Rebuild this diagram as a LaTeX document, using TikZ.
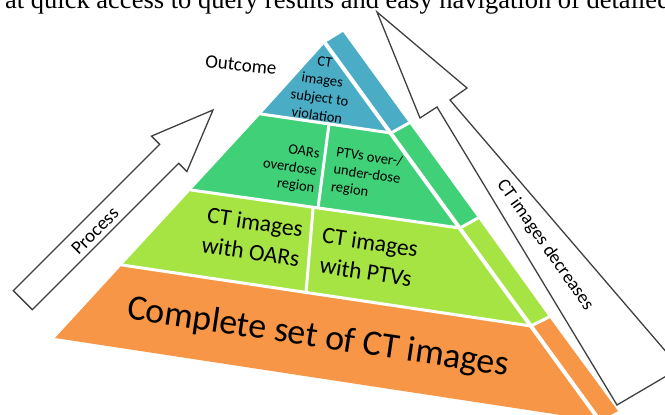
\documentclass[tikz,border=0pt]{standalone}
\usepackage{fontspec}
\setmainfont{Carlito}
\newfontfamily\captionserif{Liberation Serif}
\definecolor{tblue}{RGB}{75,172,198}
\definecolor{tgreen}{RGB}{64,208,120}
\definecolor{tlime}{RGB}{166,228,68}
\definecolor{torange}{RGB}{247,150,70}
\definecolor{arrowgray}{RGB}{64,64,64}
\begin{document}
\begin{tikzpicture}[x=1pt,y=-1pt,
  gapline/.style={white, line width=3pt, line cap=round},
  arrowshape/.style={draw=arrowgray, fill=white, line width=1.3pt, line join=miter},
  tiertext/.style={rotate=-8.5, inner sep=0pt, text=black},
  sidetext/.style={inner sep=0pt, text=black}]
\useasboundingbox (0,0) rectangle (665,415);
\clip (0,0) rectangle (665,415);

% caption fragment cut off at the top
\node[anchor=base west, inner sep=0pt, font={\captionserif\fontsize{26.5}{30}\selectfont}] (caption) at (5,9)
  {at quick access to query results and easy navigation of detailed};

% pyramid points
\coordinate (A) at (325,43);
\coordinate (B1L) at (261,114);
\coordinate (B1R) at (391,133);
\coordinate (B2L) at (191,190);
\coordinate (B2R) at (460,228);
\coordinate (B3L) at (122,265);
\coordinate (B3R) at (531,326);
\coordinate (BL) at (55,338);
\coordinate (BR) at (600,421);
\coordinate (S0) at (343,32);
\coordinate (S1) at (409,123);
\coordinate (S2) at (478,218);
\coordinate (S3) at (549,317);
\coordinate (S4) at (618,411);

% front face tiers
\fill[tblue] (A) -- (B1R) -- (B1L) -- cycle;
\fill[tgreen] (B1L) -- (B1R) -- (B2R) -- (B2L) -- cycle;
\fill[tlime] (B2L) -- (B2R) -- (B3R) -- (B3L) -- cycle;
\fill[torange] (B3L) -- (B3R) -- (BR) -- (BL) -- cycle;
% side face tiers
\fill[tblue] (A) -- (S0) -- (S1) -- (B1R) -- cycle;
\fill[tgreen] (B1R) -- (S1) -- (S2) -- (B2R) -- cycle;
\fill[tlime] (B2R) -- (S2) -- (S3) -- (B3R) -- cycle;
\fill[torange] (B3R) -- (S3) -- (S4) -- (BR) -- cycle;

% white gaps
\draw[white, line width=4pt] (A) -- (BR);
\draw[gapline] (B1L) -- (B1R) -- (S1);
\draw[gapline] (B2L) -- (B2R) -- (S2);
\draw[gapline] (B3L) -- (B3R) -- (S3);
\coordinate (D1t) at (329,124);
\coordinate (D1b) at (318,208);
\coordinate (D2t) at (313,209);
\coordinate (D2b) at (306,293);
\draw[gapline] (D1t) -- (D1b);
\draw[gapline] (D2t) -- (D2b);

% tier texts
\node[tiertext, align=center, font={\fontsize{14.5}{18}\selectfont}] (viol) at (321,89)
  {CT\\images\\subject to\\violation};
\node[tiertext, align=right, font={\fontsize{14.5}{17.5}\selectfont}] (oars) at (290,168)
  {OARs\\overdose\\region};
\node[tiertext, align=left, font={\fontsize{14.5}{17.5}\selectfont}] (ptvs) at (367,175)
  {PTVs over-/\\under-dose\\region};
\node[tiertext, align=center, font={\fontsize{23.5}{30}\selectfont}] (ctoars) at (253,237)
  {CT images\\with OARs};
\node[tiertext, align=center, font={\fontsize{23.5}{30}\selectfont}] (ctptvs) at (368,257)
  {CT images\\with PTVs};
\node[tiertext, font={\fontsize{35.8}{40}\selectfont}] (complete) at (318,338)
  {Complete set of CT images};

% Process arrow
\coordinate (PT) at (213,110);
\coordinate (PR) at (186.9,171.5);
\coordinate (PRs) at (178.7,163.3);
\coordinate (PRb) at (32.3,309.7);
\coordinate (PLb) at (13.3,290.7);
\coordinate (PLs) at (159.7,144.3);
\coordinate (PL) at (151.5,136.1);
\draw[arrowshape] (PT) -- (PR) -- (PRs) -- (PRb) -- (PLb) -- (PLs) -- (PL) -- cycle;
\node[sidetext, rotate=45, font={\fontsize{19}{22}\selectfont}] (process) at (95,231)
  {Process};

% CT images decreases wedge arrow
\coordinate (CT) at (377,12);
\coordinate (CR) at (467,88);
\coordinate (CRs) at (450,100);
\coordinate (CRb) at (680,368);
\coordinate (CLb) at (617,405);
\coordinate (CLs) at (437,107);
\coordinate (CL) at (420,118);
\draw[arrowshape] (CT) -- (CR) -- (CRs) -- (CRb) -- (CLb) -- (CLs) -- (CL) -- cycle;
\node[sidetext, rotate=-55, font={\fontsize{18.5}{22}\selectfont}] (decr) at (545,245)
  {CT images decreases};

% Outcome label
\node[sidetext, rotate=-6, font={\fontsize{19}{22}\selectfont}] (outcome) at (241,65)
  {Outcome};
\end{tikzpicture}
\end{document}
